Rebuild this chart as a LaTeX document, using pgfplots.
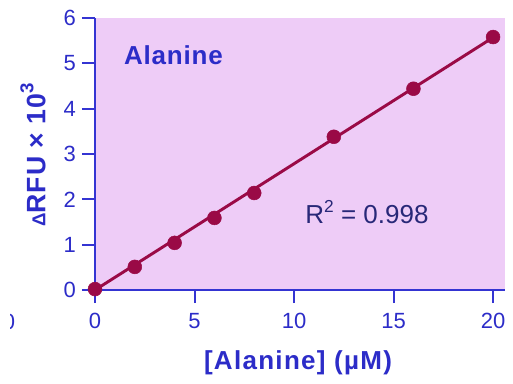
\documentclass[border=0pt]{standalone}
\usepackage{pgfplots}
\pgfplotsset{compat=1.18}
\usepackage{fontspec}
\setmainfont{Liberation Sans}
\definecolor{bgc}{RGB}{238,204,247}
\definecolor{axc}{RGB}{52,52,210}
\definecolor{txc}{RGB}{44,44,200}
\definecolor{redc}{RGB}{154,10,70}
\definecolor{rtc}{RGB}{40,40,120}
\begin{document}
\begin{tikzpicture}[x=0.75pt,y=0.75pt]
\useasboundingbox (-95,-93) rectangle (418,290);
\begin{axis}[
  at={(0,0)}, anchor=origin,
  scale only axis, width=307.5pt, height=204pt,
  xmin=0, xmax=20.6, ymin=0, ymax=6,
  axis lines*=left,
  axis line style={axc, line width=1.5pt},
  axis background/.style={fill=bgc},
  axis on top=true,
  clip=false,
  xtick={0,5,10,15,20}, ytick={0,1,2,3,4,5,6},
  tick align=outside,
  major tick length=9.75pt,
  tick style={axc, line width=1.5pt},
  ticklabel style={txc, font=\fontsize{16.5}{18}\selectfont},
  /pgf/number format/assume math mode=true,
  xticklabel style={yshift=-4pt},
  yticklabel style={xshift=-1pt},
]
\addplot[redc, line width=2.2pt, no marks] coordinates {(0,0.0) (20,5.57)};
\addplot[only marks, mark=*, mark size=5.2pt, redc] coordinates {
(0,0.02) (2,0.51) (4,1.04) (6,1.59) (8,2.14) (12,3.38) (16,4.44) (20,5.58)};
\end{axis}
\node[txc, font=\bfseries\fontsize{19.5}{22}\selectfont\addfontfeature{LetterSpace=3}] at (78.5,235) {Alanine};
\node[rtc, font=\fontsize{19.5}{22}\selectfont] at (272,78) {R\raisebox{0.45em}{\fontsize{13}{13}\selectfont 2} = 0.998};
\node[txc, font=\bfseries\fontsize{19.5}{22}\selectfont\addfontfeature{LetterSpace=5}] at (203,-73) {[Alanine] (µM)};
\node[txc, font=\bfseries\fontsize{20}{22}\selectfont\addfontfeature{LetterSpace=4}, rotate=90] at (-62,135) {{\fontsize{14}{14}\selectfont Δ}RFU × 10\raisebox{0.45em}{\fontsize{14}{14}\selectfont 3}};
\begin{scope}
\clip (-84,-60) rectangle (-70,-20);
\node[txc, font=\fontsize{16.5}{18}\selectfont] at (-86,-32) {0};
\end{scope}
\end{tikzpicture}
\end{document}
